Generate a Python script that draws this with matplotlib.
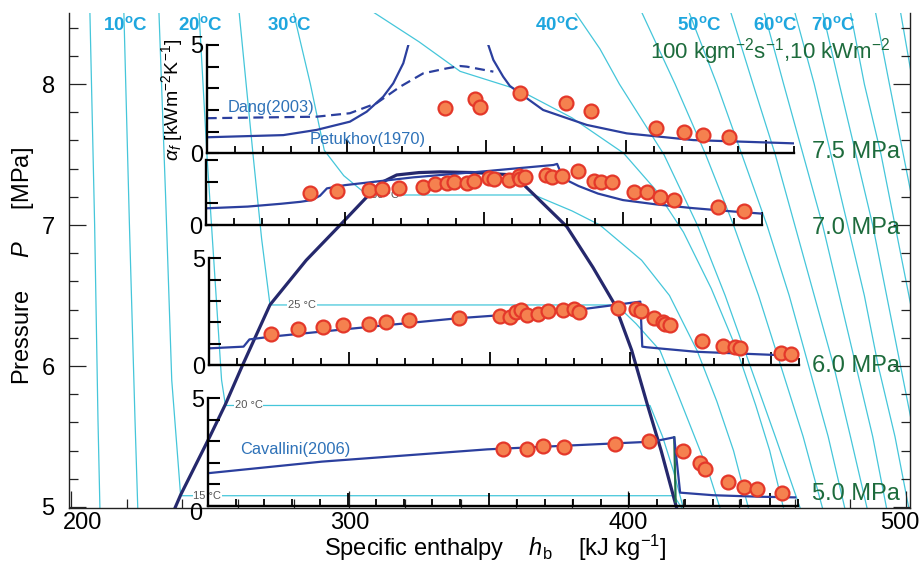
import matplotlib
matplotlib.use("Agg")
import matplotlib.pyplot as plt
import matplotlib.transforms as mtransforms
import numpy as np

plt.rcParams['font.family'] = ['Liberation Sans', 'DejaVu Sans']
plt.rcParams['mathtext.fontset'] = 'custom'
plt.rcParams['mathtext.rm'] = 'Liberation Sans'
plt.rcParams['mathtext.it'] = 'Liberation Sans:italic'
plt.rcParams['mathtext.bf'] = 'Liberation Sans:bold'

# ---------------- data ----------------
# saturation dome of CO2 (h kJ/kg, P MPa)
dome_h = [237.3, 239.4, 249.9, 255.5, 261.5, 271.5, 284.5, 296.7, 307.0, 311.0, 317.0, 325.0,
          332.6, 345.0, 359.0, 366.4, 378.1, 387.5, 395.4, 401.4, 407.1, 412.0, 417.6]
dome_p = [4.99, 5.086, 5.5, 5.729, 6.0, 6.434, 6.75, 7.0, 7.214, 7.296, 7.355, 7.372,
          7.377, 7.372, 7.355, 7.214, 6.989, 6.7, 6.434, 6.113, 5.723, 5.4, 4.99]

# isotherms (h, P)
iso05_h = [206.8, 208.5, 209.7, 210.4]
iso05_p = [8.51, 7.0, 5.62, 4.99]
iso10_h = [219.0, 221.0, 223.0, 224.0]
iso10_p = [8.51, 7.0, 5.62, 4.99]
iso15_h = [231.6, 234.0, 236.2, 239.4, 416.6, 419.5]
iso15_p = [8.51, 7.2, 5.9, 5.08, 5.08, 4.99]
iso20_h = [246.0, 248.9, 254.1, 255.5, 408.0, 412.5, 416.5, 420.0]
iso20_p = [8.51, 7.48, 5.9, 5.72, 5.72, 5.5, 5.25, 4.99]
iso25_h = [260.4, 265.5, 268.5, 271.5, 396.0, 403.0, 411.6, 418.0, 424.0, 429.0, 433.2]
iso25_p = [8.51, 7.48, 6.9, 6.433, 6.433, 6.3, 6.11, 5.8, 5.5, 5.25, 4.99]
iso30_h = [279.9, 286.0, 291.0, 298.0, 305.0, 307.0, 366.4, 380.0, 390.0, 405.0, 415.0,
           424.9, 432.0, 438.0, 443.4]
iso30_p = [8.51, 8.0, 7.53, 7.35, 7.236, 7.213, 7.213, 7.1, 7.0, 6.75, 6.5, 6.11, 5.75, 5.4, 4.99]
iso35_h = [308.6, 325.0, 339.8, 360.7, 380.0, 398.5, 410.0, 420.0, 430.0, 439.3, 446.0, 451.0, 456.0]
iso35_p = [8.51, 8.3, 8.09, 7.96, 7.76, 7.51, 7.25, 6.95, 6.55, 6.11, 5.72, 5.4, 4.99]
iso40_h = [381.0, 390.0, 397.0, 413.0, 425.0, 435.0, 444.0, 453.0, 462.0]
iso40_p = [8.51, 8.25, 8.0, 7.5, 7.0, 6.5, 6.0, 5.5, 4.99]
isoHT_p = [8.51, 8.0, 7.5, 7.0, 6.5, 6.0, 5.5, 4.99]
iso45_h = [405.0, 417.0, 428.0, 438.0, 447.0, 455.0, 463.0, 470.0]
iso50_h = [422.0, 432.0, 441.0, 450.0, 458.0, 465.0, 472.0, 478.0]
iso55_h = [437.0, 445.0, 453.0, 460.0, 467.0, 474.0, 480.0, 486.0]
iso60_h = [449.0, 456.0, 463.0, 470.0, 476.0, 482.0, 488.0, 493.0]
iso65_h = [460.0, 467.0, 473.0, 479.0, 485.0, 490.0, 496.0, 501.0]
iso70_h = [470.0, 476.0, 482.0, 488.0, 493.0, 498.0, 503.0, 508.0]
iso75_h = [480.0, 485.0, 491.0, 496.0, 501.0, 506.0, 511.0, 516.0]
iso80_h = [489.0, 494.0, 499.0, 504.0, 509.0, 514.0, 519.0, 524.0]
iso85_h = [498.0, 502.5, 507.0, 512.0, 517.0, 522.0, 527.0, 531.0]

top_labels = ["10", "20", "30", "40", "50", "60", "70"]
top_label_h = [219.4, 246.3, 278.3, 374.6, 425.6, 452.9, 473.8]

# two-phase isotherm tags
tp_labels = ["30 °C", "25 °C", "20 °C", "15 °C"]
tp_label_h = [312.8, 283.0, 263.8, 249.0]
tp_label_p = [7.213, 6.433, 5.72, 5.08]

# inset 1 : 7.5 MPa
petA_h = [250, 277.4, 289.3, 301.2, 307.2, 313.1, 316.7, 320.3, 322.1]
petA_a = [0.74, 0.84, 1.08, 1.46, 1.92, 2.61, 3.23, 4.16, 5.0]
petB_h = [350.7, 352.5, 356.0, 358.4, 362.0, 370.3, 385.9, 400.2, 424.0, 459.7]
petB_a = [5.0, 4.31, 3.54, 3.11, 2.77, 2.0, 1.31, 0.92, 0.61, 0.46]
dang_h = [250, 289.3, 301.2, 310.7, 319.1, 327.4, 335.8, 340.6, 343.0, 352.5]
dang_a = [1.62, 1.69, 1.85, 2.31, 3.07, 3.69, 3.92, 4.03, 4.0, 3.77]
exp75_h = [335.2, 345.9, 347.7, 362.2, 378.5, 387.4, 410.6, 420.7, 427.5, 436.7]
exp75_a = [2.08, 2.49, 2.15, 2.77, 2.31, 1.97, 1.15, 0.97, 0.85, 0.75]

# inset 2 : 7.0 MPa
cor70_h = [250, 265, 277, 284, 288, 291, 293.5, 300, 324.6, 348.6, 375, 376.3, 378.5, 384,
           391, 400, 412, 425, 440, 450.5]
cor70_a = [0.77, 0.85, 0.98, 1.07, 1.15, 1.35, 1.69, 1.84, 2.2, 2.46, 2.77, 2.82, 2.15, 1.8,
           1.45, 1.15, 0.95, 0.78, 0.62, 0.52]
exp70_h = [287.4, 297.2, 308.6, 313.2, 319.4, 327.9, 332.2, 336.6, 339.2, 344.0, 346.4, 351.9,
           353.6, 359.1, 362.5, 362.9, 364.9, 372.2, 374.4, 378.2, 383.7, 389.4, 392.0, 395.9,
           404.1, 408.8, 413.4, 418.3, 434.1, 443.6]
exp70_a = [1.49, 1.57, 1.62, 1.66, 1.72, 1.77, 1.88, 1.95, 2.0, 1.95, 2.04, 2.18,
           2.12, 2.08, 2.28, 2.14, 2.2, 2.31, 2.23, 2.26, 2.48, 2.04, 2.0, 2.0,
           1.51, 1.54, 1.31, 1.15, 0.82, 0.66]

# inset 3 : 6.0 MPa
cor60_h = [250, 262.4, 264.5, 272.3, 310.4, 338.6, 359.8, 381.0, 403.6, 404.3, 406.0, 423.4, 451.6, 460]
cor60_a = [0.78, 0.86, 1.2, 1.33, 1.83, 2.19, 2.39, 2.58, 2.97, 0.86, 0.83, 0.62, 0.47, 0.42]
exp60_h = [272.0, 281.7, 290.6, 297.7, 307.2, 313.2, 321.3, 339.1, 353.7, 357.3, 359.4, 361.0,
           363.3, 367.2, 370.7, 376.1, 380.0, 381.7, 395.5, 402.2, 403.9, 408.6, 411.8, 412.4,
           414.2, 425.6, 433.0, 437.2, 438.9, 453.5, 457.3]
exp60_a = [1.45, 1.67, 1.8, 1.86, 1.94, 2.0, 2.12, 2.2, 2.3, 2.24, 2.48, 2.58,
           2.34, 2.39, 2.53, 2.58, 2.62, 2.5, 2.69, 2.61, 2.55, 2.19, 2.03, 1.92,
           1.87, 1.12, 0.9, 0.86, 0.81, 0.58, 0.52]

# inset 4 : 5.0 MPa
cav_h = [250, 290.7, 349.6, 408.5, 416.1, 418.2, 430, 446.6, 459.1]
cav_a = [1.52, 2.06, 2.63, 2.99, 3.19, 0.62, 0.5, 0.43, 0.4]
green_h = [416.1, 416.6]
green_a = [3.19, 0.2]
exp50_h = [355.2, 363.6, 369.5, 376.9, 395.1, 407.2, 419.1, 425.4, 427.1, 435.2, 441.0, 445.6, 454.3]
exp50_a = [2.63, 2.65, 2.79, 2.75, 2.86, 3.02, 2.55, 1.98, 1.72, 1.13, 0.9, 0.79, 0.59]

press_labels = ["7.5 MPa", "7.0 MPa", "6.0 MPa", "5.0 MPa"]
press_label_p = [7.52, 6.98, 6.0, 5.092]

# ---------------- styles ----------------
W, H = 923, 561
CYAN = '#45c6da'
DOME = '#25286c'
LINE = '#2b3f9e'
TXTBLUE = '#2e72b8'
GREEN = '#1d6b3c'
TBLUE = '#1ea6de'
PT_FACE = '#f5814f'
PT_EDGE = '#e4382a'

fig = plt.figure(figsize=(W / 100, H / 100), dpi=100)


def px_axes(x0, x1, ytop, ybot):
    return fig.add_axes([x0 / W, 1 - ybot / H, (x1 - x0) / W, (ybot - ytop) / H])


def shift_label(lab, dx_px, dy_px):
    lab.set_transform(lab.get_transform() +
                      mtransforms.ScaledTranslation(dx_px / 100, dy_px / 100, fig.dpi_scale_trans))


ax = px_axes(69.3, 910, 12.7, 507.7)
ax.set_xlim(199.4, 501.4)
ax.set_ylim(4.995, 8.506)
ax.spines['top'].set_visible(False)
for s in ['left', 'right', 'bottom']:
    ax.spines[s].set_linewidth(1.0)
    ax.spines[s].set_color('#222222')
ax.set_xticks([200, 300, 400, 500])
ax.set_xticks(np.arange(200, 501, 20), minor=True)
ax.set_yticks([5, 6, 7, 8])
ax.set_yticks(np.arange(5.0, 8.55, 0.2), minor=True)
ax.tick_params(which='both', direction='in', left=True, right=True, top=False, bottom=True,
               color='#222222', width=0.9)
ax.tick_params(which='major', length=12.5)
ax.tick_params(which='minor', length=6.3)
ax.tick_params(axis='y', labelsize=17, pad=10.5)
ax.tick_params(axis='x', labelsize=17, pad=3)

fig.canvas.draw()
for lab in ax.get_xticklabels():
    if lab.get_text() == '200':
        shift_label(lab, 12, 0)
    if lab.get_text() == '500':
        shift_label(lab, -6, 0)

iso_all = [(iso05_h, iso05_p), (iso10_h, iso10_p), (iso15_h, iso15_p), (iso20_h, iso20_p),
           (iso25_h, iso25_p), (iso30_h, iso30_p), (iso35_h, iso35_p), (iso40_h, iso40_p),
           (iso45_h, isoHT_p), (iso50_h, isoHT_p), (iso55_h, isoHT_p), (iso60_h, isoHT_p),
           (iso65_h, isoHT_p), (iso70_h, isoHT_p), (iso75_h, isoHT_p), (iso80_h, isoHT_p),
           (iso85_h, isoHT_p)]
for hh, pp in iso_all:
    ax.plot(hh, pp, color=CYAN, lw=0.9, zorder=1)

ax.plot(dome_h, dome_p, color=DOME, lw=2.3, zorder=3, solid_joinstyle='round')

for lab, hx, pp in zip(tp_labels, tp_label_h, tp_label_p):
    ax.text(hx, pp, lab, fontsize=8, color='#555555', ha='center', va='center', zorder=2,
            bbox=dict(facecolor='white', edgecolor='none', pad=0.6))

for lab, hx in zip(top_labels, top_label_h):
    ax.text(hx, 8.418, lab + r"$^{\mathbf{o}}$C", fontsize=13.5, fontweight='bold', color=TBLUE,
            ha='center', va='center', zorder=4)

ax.text(451.1, 8.227, r"100 kgm$^{-2}$s$^{-1}$,10 kWm$^{-2}$", fontsize=16, color=GREEN,
        ha='center', va='center', zorder=4)
for lab, pp in zip(press_labels, press_label_p):
    ax.text(466.3, pp, lab, fontsize=17, color=GREEN, ha='left', va='center', zorder=4)


def style_inset(a, xmax, ymax):
    a.set_facecolor('none')
    a.set_xlim(250, xmax)
    a.set_ylim(0, ymax)
    for s in ['top', 'right']:
        a.spines[s].set_visible(False)
    for s in ['left', 'bottom']:
        a.spines[s].set_linewidth(1.7)
    a.set_yticks(range(0, ymax + 1))
    a.set_yticklabels([str(v) if v in (0, 5) else '' for v in range(ymax + 1)])
    a.set_xticks(np.arange(250, xmax + 0.1, 50))
    a.set_xticks(np.arange(250, xmax + 0.1, 10), minor=True)
    a.tick_params(axis='x', which='major', direction='in', length=9.5, width=1.3,
                  labelbottom=False)
    a.tick_params(axis='x', which='minor', direction='in', length=5, width=1.3)
    a.tick_params(axis='y', which='major', direction='in', length=8.5, width=1.5,
                  labelsize=17, pad=2.5)
    a.tick_params(axis='y', which='minor', left=False)


def points(a, hh, aa):
    a.plot(hh, aa, 'o', ms=10, mfc=PT_FACE, mec=PT_EDGE, mew=1.6, zorder=5, clip_on=False)


# inset 1 (7.5 MPa)
a1 = px_axes(206.7, 794.0, 45.0, 153.3)
style_inset(a1, 460, 5)
a1.plot(dang_h, dang_a, color=LINE, lw=1.6, ls=(0, (4.5, 2.5)))
a1.plot(petA_h, petA_a, color=LINE, lw=1.6)
a1.plot(petB_h, petB_a, color=LINE, lw=1.6)
points(a1, exp75_h, exp75_a)
a1.text(257.5, 2.12, "Dang(2003)", fontsize=11.8, color=TXTBLUE, ha='left', va='center')
a1.text(286.7, 0.62, "Petukhov(1970)", fontsize=11.8, color=TXTBLUE, ha='left', va='center')

# inset 2 (7.0 MPa)
a2 = px_axes(206.0, 762.0, 160.0, 225.0)
style_inset(a2, 450, 3)
a2.plot(cor70_h, cor70_a, color=LINE, lw=1.6)
points(a2, exp70_h, exp70_a)

# inset 3 (6.0 MPa)
a3 = px_axes(208.7, 798.8, 258.3, 365.0)
style_inset(a3, 460, 5)
a3.plot(cor60_h, cor60_a, color=LINE, lw=1.6)
points(a3, exp60_h, exp60_a)

# inset 4 (5.0 MPa)
a4 = px_axes(207.5, 797.6, 398.3, 506.0)
style_inset(a4, 460, 5)
a4.plot(green_h, green_a, color='#1f7048', lw=1.6)
a4.plot(cav_h, cav_a, color=LINE, lw=1.6)
points(a4, exp50_h, exp50_a)
a4.text(261.5, 2.62, "Cavallini(2006)", fontsize=11.8, color=TXTBLUE, ha='left', va='center')
fig.canvas.draw()
for lab in a4.get_yticklabels():
    if lab.get_text() == '0':
        shift_label(lab, -2, -5)

# axis labels
fig.text(172 / W, 1 - 100 / H, r"$\alpha_f$ [kWm$^{-2}$K$^{-1}$]", rotation=90, fontsize=14,
         ha='center', va='center')
fig.text(23 / W, 1 - 266 / H, r"Pressure     $P$     [MPa]", rotation=90, fontsize=17,
         ha='center', va='center')
fig.text(495.5 / W, 1 - 555.5 / H, r"Specific enthalpy    $h_\mathrm{b}$    [kJ kg$^{-1}$]",
         fontsize=17, ha='center', va='baseline')

fig.savefig("out.png", dpi=100)
